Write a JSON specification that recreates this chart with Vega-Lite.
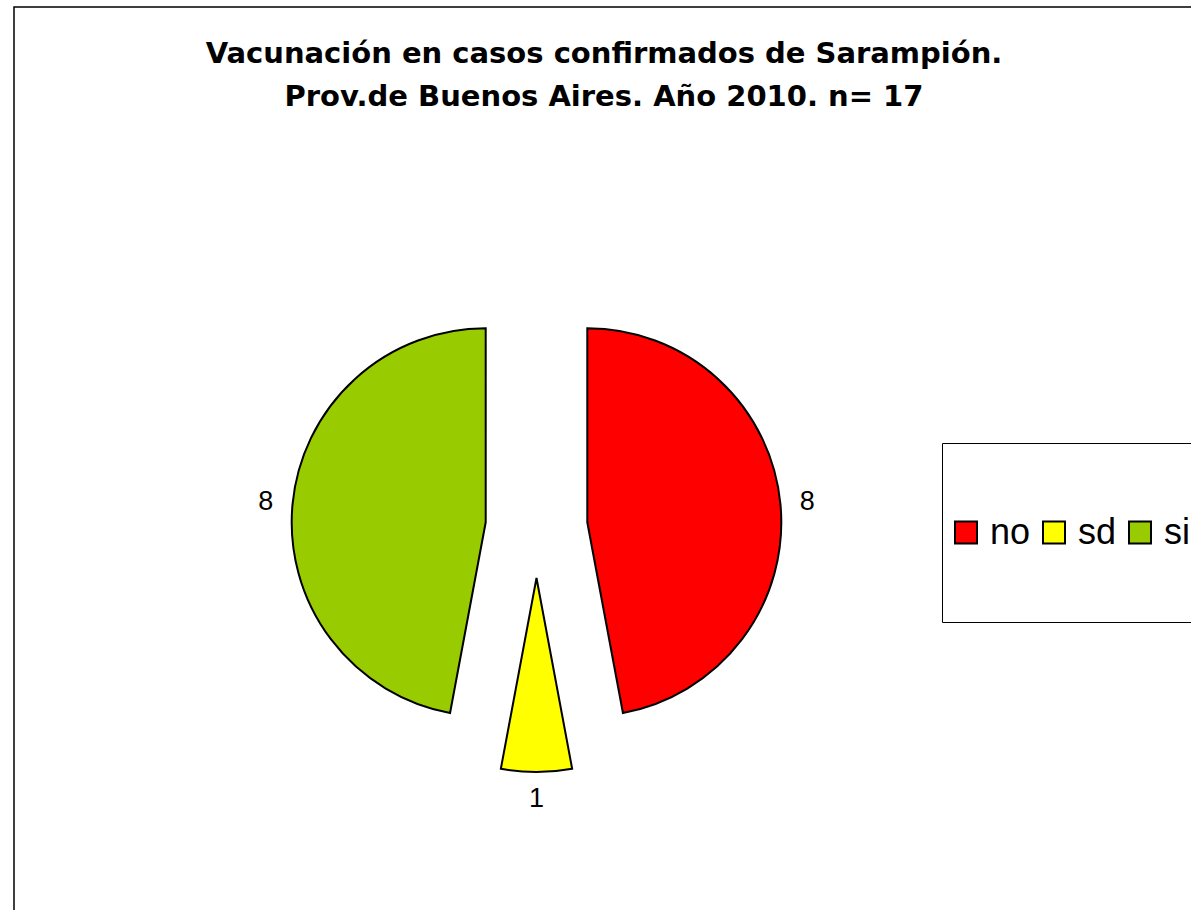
{
  "$schema": "https://vega.github.io/schema/vega-lite/v6.json",
  "autosize": {"type": "none"},
  "padding": {"left": 14, "top": 7, "right": 0, "bottom": 0},
  "width": 1200,
  "height": 1040,
  "background": "white",
  "config": {
    "view": {"stroke": null},
    "font": "Liberation Sans"
  },
  "title": {
    "text": ["Vacunación en casos confirmados de Sarampión.", "Prov.de Buenos Aires. Año 2010. n= 17"],
    "font": "DejaVu Sans",
    "fontSize": 29,
    "fontWeight": "bold",
    "color": "black",
    "lineHeight": 43,
    "anchor": "middle",
    "frame": "group",
    "offset": 0,
    "dy": 106,
    "dx": -10
  },
  "data": {
    "values": [
      {"category": "no", "count": 8},
      {"category": "sd", "count": 1},
      {"category": "si", "count": 8}
    ]
  },
  "transform": [
    {"stack": "count", "groupby": [], "as": ["start", "end"], "sort": [{"field": "category", "order": "ascending"}]}
  ],
  "layer": [
    {
      "transform": [{"filter": "datum.category === 'no'"}],
      "mark": {"type": "rect", "fill": null, "filled": false, "stroke": "black", "strokeWidth": 1.5},
      "encoding": {}
    },
    {
      "encoding": {
        "theta": {"field": "start", "type": "quantitative", "scale": {"domain": [0, 17]}},
        "theta2": {"field": "end"},
        "color": {
          "field": "category",
          "type": "nominal",
          "scale": {"domain": ["no", "sd", "si"], "range": ["#ff0000", "#ffff00", "#99cc00"]},
          "legend": {
            "orient": "none",
            "legendX": 928,
            "legendY": 436,
            "direction": "horizontal",
            "title": null,
            "symbolType": "square",
            "symbolSize": 484,
            "symbolStrokeColor": "black",
            "symbolStrokeWidth": 2,
            "symbolOpacity": 1,
            "labelFont": "Liberation Sans",
            "labelFontSize": 36,
            "labelColor": "black",
            "labelOffset": 6,
            "columnPadding": 5,
            "padding": 6,
            "clipHeight": 167,
            "strokeColor": "black",
            "fillColor": "white"
          }
        }
      },
      "layer": [
        {
          "transform": [{"filter": "datum.category === 'no'"}],
          "mark": {"type": "arc", "radius": 194, "stroke": "black", "strokeWidth": 2, "xOffset": -26.7, "yOffset": -4.7}
        },
        {
          "transform": [{"filter": "datum.category === 'sd'"}],
          "mark": {"type": "arc", "radius": 194, "stroke": "black", "strokeWidth": 2, "xOffset": -77.5, "yOffset": 51}
        },
        {
          "transform": [{"filter": "datum.category === 'si'"}],
          "mark": {"type": "arc", "radius": 194, "stroke": "black", "strokeWidth": 2, "xOffset": -128.3, "yOffset": -4.7}
        }
      ]
    },
    {
      "mark": {"type": "text", "radius": 272, "xOffset": -77.5, "font": "Liberation Sans", "fontSize": 27, "color": "black", "align": "center", "baseline": "middle"},
      "encoding": {
        "theta": {"field": "count", "type": "quantitative", "stack": true, "scale": {"domain": [0, 17]}},
        "order": {"field": "category", "type": "nominal"},
        "text": {"field": "count", "type": "quantitative"}
      }
    }
  ]
}
